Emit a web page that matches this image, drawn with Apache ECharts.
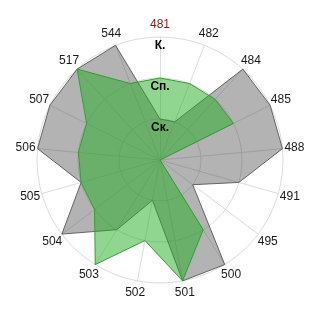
<!DOCTYPE html>
<html>
<head>
<meta charset="utf-8">
<script src="https://cdn.jsdelivr.net/npm/echarts@6/dist/echarts.min.js"></script>
<style>html,body{margin:0;padding:0;background:#fff}#c{width:320px;height:320px}</style>
</head>
<body>
<div id="c"></div>
<script>
// Axes in clockwise order starting at the top
var categories = ['481','482','484','485','488','491','495','500','501','502','503','504','505','506','507','517','544'];
var greySeries = [1,1,3,3,3,2,1,3,3,1,2,3,2,3,3,3,3];
var greenSeries = [2,2,2,2,0,0,0,2,3,2,3,2,2,2,2,3,2];
var levelLabels = ['', 'Ск.', 'Сп.', 'К.'];
var highlightCategory = '481';

// ECharts places radar indicators counter-clockwise; reorder to show them clockwise
function ccw(arr) { return [arr[0]].concat(arr.slice(1).reverse()); }
var cats = ccw(categories);
var indicator = cats.map(function (c) {
  return { name: c, min: 0, max: 3, color: c === highlightCategory ? '#8b1a1a' : '#1a1a1a' };
});

var chart = echarts.init(document.getElementById('c'), null, { renderer: 'canvas' });
chart.setOption({
  animation: false,
  backgroundColor: '#fff',
  radar: {
    center: ['50%', '50%'],
    radius: 123,
    startAngle: 90,
    shape: 'circle',
    splitNumber: 3,
    indicator: indicator,
    axisName: { fontSize: 12, fontFamily: 'Liberation Sans, Arial, sans-serif', align: 'center', verticalAlign: 'middle' },
    nameGap: 12,
    axisLine: { lineStyle: { color: '#dcdcdc', width: 1 } },
    splitLine: { lineStyle: { color: '#dcdcdc', width: 1 } },
    splitArea: { show: false },
    axisTick: { show: false },
    axisLabel: { show: false }
  },
  polar: { center: ['50%', '50%'], radius: 123 },
  angleAxis: {
    type: 'value', min: 0, max: 360, startAngle: 90, show: false
  },
  radiusAxis: {
    type: 'value', min: 0, max: 3, interval: 1, z: 10,
    axisLine: { show: false }, axisTick: { show: false }, splitLine: { show: false },
    axisLabel: {
      show: true, margin: 0, align: 'center', verticalAlign: 'top', padding: [3, 0, 0, 0],
      fontSize: 12, fontWeight: 'bold', color: '#000', fontFamily: 'Liberation Sans, Arial, sans-serif',
      formatter: function (v) { return levelLabels[Math.round(v)] || ''; }
    }
  },
  series: [{
    type: 'radar',
    symbol: 'none',
    data: [
      { value: ccw(greySeries), lineStyle: { color: '#6e6e6e', width: 1 }, areaStyle: { color: 'rgba(70,70,70,0.41)', opacity: 1 } },
      { value: ccw(greenSeries), lineStyle: { color: '#3a9a3a', width: 1 }, areaStyle: { color: 'rgba(33,173,33,0.5)', opacity: 1 } }
    ]
  }]
});
</script>
</body>
</html>
